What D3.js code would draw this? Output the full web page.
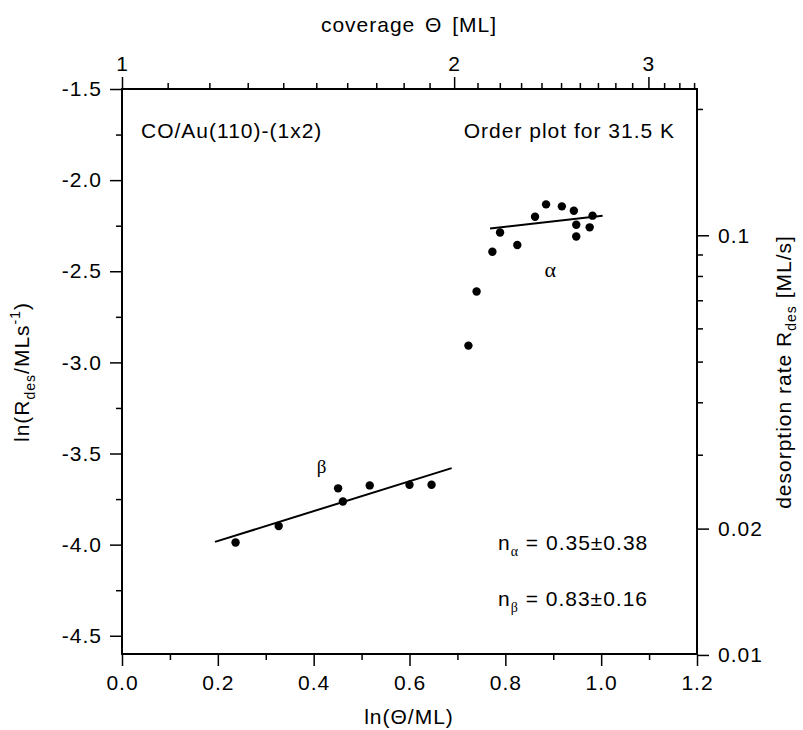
<!DOCTYPE html>
<html>
<head>
<meta charset="utf-8">
<script src="https://cdn.jsdelivr.net/npm/d3@7"></script>
<style>
  body { margin: 0; background: white; }
  svg text { font-family: "Liberation Sans", Arial, sans-serif; fill: #000; letter-spacing: 1px; }
</style>
</head>
<body>
<div id="chart"></div>
<script>
// ln(Theta/ML) and ln(Rdes) of the alpha and beta states
const alphaX = [0.723, 0.740, 0.773, 0.789, 0.825, 0.862, 0.885, 0.918, 0.943, 0.948, 0.948, 0.976, 0.982];
const alphaY = [-2.908, -2.611, -2.393, -2.287, -2.356, -2.201, -2.133, -2.144, -2.168, -2.245, -2.309, -2.259, -2.195];
const betaX = [0.237, 0.327, 0.451, 0.461, 0.517, 0.600, 0.646];
const betaY = [-3.988, -3.898, -3.691, -3.763, -3.675, -3.671, -3.671];
// fitted lines (end points)
const fitAlphaX = [0.768, 1.003];
const fitAlphaY = [-2.265, -2.195];
const fitBetaX = [0.194, 0.688];
const fitBetaY = [-3.985, -3.580];

const bottomTicks = [0, 0.2, 0.4, 0.6, 0.8, 1.0, 1.2];
const leftTicks = [-1.5, -2.0, -2.5, -3.0, -3.5, -4.0, -4.5];
const topTicks = [1, 2, 3];
const rightTicks = [0.1, 0.02, 0.01];

const width = 803, height = 730;
const margin = {top: 89, right: 106, bottom: 76, left: 122};

const svg = d3.select("#chart").append("svg")
    .attr("width", width).attr("height", height);

const x = d3.scaleLinear().domain([0, 1.2]).range([margin.left, width - margin.right]);
const y = d3.scaleLinear().domain([-4.6, -1.5]).range([height - margin.bottom, margin.top]);
const xTop = d3.scaleLog().domain([1, Math.exp(1.2)]).range(x.range());
const yRight = d3.scaleLog().domain([Math.exp(-4.6), Math.exp(-1.5)]).range(y.range());

const fs = "21px";
const subFs = "14px";
function styleAxis(g) {
  g.select(".domain").remove();
  g.selectAll(".tick line").attr("stroke", "#000").attr("stroke-width", 1.5);
  g.selectAll(".tick text").style("font-size", fs);
}

// bottom
const xMinor = d3.range(0.1, 1.2, 0.2);
svg.append("g").attr("transform", `translate(0,${y.range()[0]})`)
  .call(d3.axisBottom(x).tickValues(bottomTicks).tickFormat(d3.format(".1f")).tickSize(12).tickPadding(9))
  .call(styleAxis);
svg.append("g").attr("transform", `translate(0,${y.range()[0]})`)
  .call(d3.axisBottom(x).tickValues(xMinor).tickFormat("").tickSize(6))
  .call(styleAxis);

// left
const yMinor = d3.range(-1.75, -4.6, -0.5);
svg.append("g").attr("transform", `translate(${x.range()[0]},0)`)
  .call(d3.axisLeft(y).tickValues(leftTicks).tickFormat(d3.format(".1f")).tickSize(12).tickPadding(8))
  .call(styleAxis);
svg.append("g").attr("transform", `translate(${x.range()[0]},0)`)
  .call(d3.axisLeft(y).tickValues(yMinor).tickFormat("").tickSize(6))
  .call(styleAxis);
svg.selectAll("text").filter(function() { return this.textContent.startsWith("−"); })
  .text(function() { return this.textContent.replace("−", "-"); });

// top (coverage, log)
const topMinor = d3.range(1.1, 3.35, 0.1).filter(v => Math.abs(v - 2) > 0.01 && Math.abs(v - 3) > 0.01);
svg.append("g").attr("transform", `translate(0,${y.range()[1]})`)
  .call(d3.axisTop(xTop).tickValues(topTicks).tickFormat(d3.format("d")).tickSize(12).tickPadding(6))
  .call(styleAxis);
svg.append("g").attr("transform", `translate(0,${y.range()[1]})`)
  .call(d3.axisTop(xTop).tickValues(topMinor).tickFormat("").tickSize(6))
  .call(styleAxis);

// right (desorption rate, log)
const rightMinor = [0.2, 0.09, 0.08, 0.07, 0.06, 0.05, 0.04, 0.03];
svg.append("g").attr("transform", `translate(${x.range()[1]},0)`)
  .call(d3.axisRight(yRight).tickValues(rightTicks).tickFormat(d => String(d)).tickSize(12).tickPadding(9))
  .call(styleAxis);
svg.append("g").attr("transform", `translate(${x.range()[1]},0)`)
  .call(d3.axisRight(yRight).tickValues(rightMinor).tickFormat("").tickSize(6))
  .call(styleAxis);

// frame
svg.append("rect")
  .attr("x", x.range()[0]).attr("y", y.range()[1])
  .attr("width", x.range()[1] - x.range()[0]).attr("height", y.range()[0] - y.range()[1])
  .attr("fill", "none").attr("stroke", "#000").attr("stroke-width", 2);

// fit lines
const line = d3.line().x(d => x(d[0])).y(d => y(d[1]));
[[fitAlphaX, fitAlphaY], [fitBetaX, fitBetaY]].forEach(([fx, fy]) => {
  svg.append("path").datum(d3.zip(fx, fy)).attr("d", line)
    .attr("fill", "none").attr("stroke", "#000").attr("stroke-width", 2);
});

// points
const pts = d3.zip(alphaX, alphaY).concat(d3.zip(betaX, betaY));
svg.append("g").selectAll("circle").data(pts).join("circle")
  .attr("cx", d => x(d[0])).attr("cy", d => y(d[1])).attr("r", 4.2).attr("fill", "#000");

// annotations
svg.append("text").attr("x", 141).attr("y", 138).style("font-size", fs).text("CO/Au(110)-(1x2)");
svg.append("text").attr("x", 675).attr("y", 138).attr("text-anchor", "end").style("font-size", fs)
  .text("Order plot for 31.5 K");
svg.append("text").attr("x", x(0.895)).attr("y", y(-2.488)).attr("text-anchor", "middle").attr("dy", "0.35em")
  .style("font-size", "22px").style("font-family", "'Liberation Serif', serif").text("α");
svg.append("text").attr("x", x(0.4175)).attr("y", y(-3.572)).attr("text-anchor", "middle").attr("dy", "0.35em")
  .style("font-size", "19px").style("font-family", "'Liberation Serif', serif").text("β");

function nLabel(yPos, sub, val) {
  const t = svg.append("text").attr("x", 498).attr("y", yPos).style("font-size", fs);
  t.append("tspan").text("n");
  t.append("tspan").attr("dy", 6).style("font-size", subFs).style("font-family", "'Liberation Serif', serif").text(sub);
  t.append("tspan").attr("dy", -6).text(" = " + val);
}
nLabel(550, "α", "0.35±0.38");
nLabel(606, "β", "0.83±0.16");

// axis titles
svg.append("text").attr("x", 409).attr("y", 32).attr("text-anchor", "middle").style("font-size", fs)
  .style("word-spacing", "3px").text("coverage Θ [ML]");
svg.append("text").attr("x", 409).attr("y", 724).attr("text-anchor", "middle").style("font-size", fs)
  .text("ln(Θ/ML)");

const lt = svg.append("text").attr("transform", `translate(29,372) rotate(-90)`).attr("text-anchor", "middle")
  .style("font-size", fs);
lt.append("tspan").text("ln(R");
lt.append("tspan").attr("dy", 6).style("font-size", subFs).text("des");
lt.append("tspan").attr("dy", -6).text("/MLs");
lt.append("tspan").attr("dy", -9).style("font-size", subFs).text("-1");
lt.append("tspan").attr("dy", 9).text(")");

const rt = svg.append("text").attr("transform", `translate(791,372) rotate(-90)`).attr("text-anchor", "middle")
  .style("font-size", fs);
rt.append("tspan").text("desorption rate R");
rt.append("tspan").attr("dy", 5).style("font-size", subFs).text("des");
rt.append("tspan").attr("dy", -5).text(" [ML/s]");
</script>
</body>
</html>
